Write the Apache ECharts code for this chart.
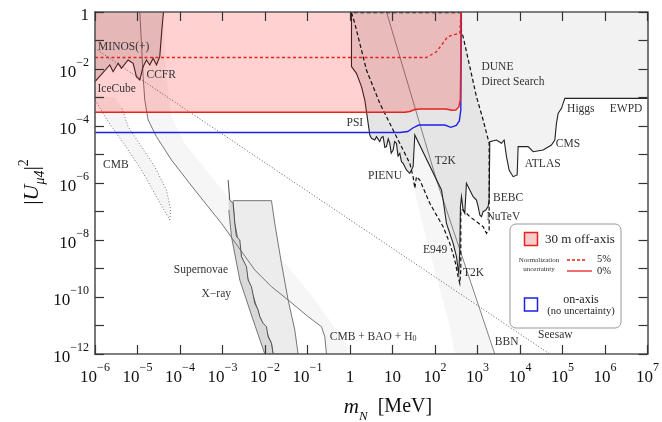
<!DOCTYPE html>
<html><head><meta charset="utf-8">
<script src="https://cdn.jsdelivr.net/npm/echarts@6/dist/echarts.min.js"></script>
<style>html,body{margin:0;padding:0;background:#fff}#c{width:662px;height:422px}</style>
</head><body><div id="c"></div>
<script>
// All values are [log10(m_N / MeV), log10(|U_mu4|^2)]
const xTicks = [-6,-5,-4,-3,-2,-1,0,1,2,3,4,5,6,7];
const yTicks = [-12,-11,-10,-9,-8,-7,-6,-5,-4,-3,-2,-1,0];

// DUNE 30 m off-axis, 0% normalization uncertainty (red solid)
const offAxis0 = [[-6,-3.519],[1.289,-3.519],[1.407,-3.491],[1.525,-3.421],[1.642,-3.404],[2.254,-3.404],[2.395,-3.446],[2.489,-3.439],[2.560,-3.333],[2.595,-3.088],[2.607,-1.684],[2.614,0]];
// 5% normalization uncertainty (red dashed)
const offAxis5 = [[-6,-1.596],[1.800,-1.596],[2.035,-1.393],[2.184,-1.098],[2.301,-0.867],[2.466,-0.782],[2.584,-0.747],[2.610,0]];
// on-axis (blue)
const onAxis = [[-6,-4.228],[1.172,-4.228],[1.360,-4.193],[1.478,-4.070],[1.619,-3.965],[2.231,-3.965],[2.372,-4.046],[2.501,-3.982],[2.572,-3.825],[2.607,-3.439],[2.619,0]];

// IceCube / MINOS(+) / CCFR bound
const minosCurve = [[-6,-2.445],[-5.652,-1.860],[-5.574,-2.094],[-5.456,-1.801],[-5.378,-1.977],[-5.221,-1.684],[-5.103,-1.801],[-5.025,-2.269],[-4.946,-2.386],[-4.868,-1.918],[-4.789,-1.684],[-4.711,-1.860],[-4.632,-1.626],[-4.554,-1.860],[-4.476,-1.567],[-4.452,-1.100],[-4.421,-0.515],[-4.389,0]];

// CMB band (dotted edges)
const cmbLeft = [[-6,-3.088],[-5.691,-3.848],[-5.299,-4.667],[-4.907,-5.544],[-4.554,-6.480],[-4.240,-7.298]];
const cmbRight = [[-4.240,-7.298],[-4.217,-6.947],[-4.319,-6.246],[-4.593,-5.427],[-4.907,-4.725],[-5.221,-4.023],[-5.378,-3.322],[-5.534,-2.994],[-6,-2.912]];

// CMB + BAO + H0
const cmbBaoLine = [[-4.946,0],[-4.907,-1.100],[-4.868,-2.269],[-4.829,-3.088],[-4.750,-3.789],[-4.554,-4.374],[-4.201,-5.193],[-3.652,-6.246],[-3.025,-7.415],[-2.633,-8.234],[-2.240,-9.053],[-1.848,-9.638],[-1.456,-10.105],[-0.985,-10.690],[-0.672,-11.041],[-0.593,-11.392],[-0.554,-12]];
const cmbBaoEdge = [[-0.044,-12],[-0.083,-11.626],[-0.883,-9.988],[-1.652,-8.585],[-2.476,-7.181],[-3.260,-5.778],[-3.888,-4.608],[-4.201,-3.673],[-4.319,-2.269],[-4.397,0]];

// Supernovae box and X-ray
const supernovaBox = [[-2.750,-6.620],[-1.848,-6.620],[-1.770,-7.415],[-1.613,-8.819],[-1.456,-10.105],[-1.299,-11.158],[-1.221,-12],[-1.809,-12],[-1.848,-11.626],[-2.123,-10.690],[-2.397,-9.404],[-2.554,-8.585],[-2.711,-7.415],[-2.750,-6.714]];
const xrayJagged = [[-2.868,-5.895],[-2.829,-6.597],[-2.750,-6.714],[-2.711,-7.415],[-2.672,-7.883],[-2.593,-8.000],[-2.554,-8.585],[-2.436,-8.936],[-2.397,-9.404],[-2.319,-9.638],[-2.240,-10.222],[-2.162,-10.456],[-2.123,-10.690],[-2.044,-10.924],[-1.966,-11.041],[-1.927,-11.392],[-1.848,-11.626],[-1.809,-12]];
const xrayLower = [[-2.005,-12],[-2.280,-10.807],[-2.593,-9.404],[-2.789,-7.883],[-2.852,-6.947]];

// BBN
const bbnLine = [[0.859,0],[2.035,-5.895],[3.407,-12]];
const bbnEdge = [[3.407,-12],[2.466,-12],[2.348,-11.041],[2.035,-9.287],[1.721,-7.532],[1.407,-5.544],[0.701,-4.374],[0.309,0]];

// Seesaw
const seesaw = [[-6,-1.28],[4.70,-12]];

// PSI, PIENU, T2K, E949, BEBC, NuTeV, ATLAS, CMS, Higgs, EWPD boundary
const psiPienu = [[0.035,0],[0.035,-1.918],[0.152,-2.152],[0.270,-2.620],[0.348,-3.088],[0.427,-3.906],[0.466,-4.316],[0.505,-4.433],[0.583,-4.491],[0.623,-4.374],[0.701,-4.550],[0.740,-4.40],[0.779,-4.374],[0.82,-4.75],[0.858,-4.725],[0.90,-4.45],[0.936,-4.608],[0.97,-4.95],[1.015,-4.842],[1.05,-4.55],[1.093,-4.608],[1.13,-5.05],[1.172,-4.959],[1.21,-5.25],[1.250,-5.310],[1.328,-5.544],[1.407,-5.661],[1.485,-5.427]];
const t2kLine = [[1.525,-4.316],[2.152,-6.246],[2.191,-6.597],[2.270,-7.415],[2.348,-7.766],[2.427,-8.117],[2.505,-8.585],[2.544,-9.053],[2.560,-9.170]];
const bebcLine = [[2.583,-8.351],[2.599,-6.830],[2.623,-6.480],[2.662,-6.947],[2.701,-7.064],[2.740,-6.012],[2.819,-6.246],[2.897,-6.480],[2.976,-6.597],[3.015,-6.830],[3.054,-7.123],[3.093,-7.181],[3.133,-7.006],[3.195,-6.947],[3.250,-6.830],[3.274,-6.597],[3.289,-4.550]];
const colliderLine = [[3.289,-4.550],[3.446,-4.491],[3.564,-4.608],[3.627,-4.491],[3.682,-5.076],[3.744,-5.544],[3.838,-5.778],[3.933,-5.719],[3.956,-4.725],[4.191,-4.725],[4.309,-4.901],[4.544,-4.842],[4.740,-4.667],[4.819,-4.491],[4.858,-3.906],[4.897,-3.556],[4.976,-3.380],[5.054,-3.029],[7,-3.029]];
const duneDiagonal = [[3.274,-4.608],[3.133,-3.789],[2.976,-2.971],[2.819,-1.918],[2.662,-0.865],[2.623,-0.690],[2.623,0]];

// DUNE direct search outline (dashed)
const duneOutline = [[0.035,-0.02],[0.113,-0.398],[0.230,-1.100],[0.387,-2.035],[0.544,-2.620],[0.701,-3.205],[0.897,-3.789],[1.093,-4.374],[1.250,-4.842],[1.407,-5.310],[1.485,-5.778],[1.525,-6.187],[1.564,-5.778],[1.642,-5.895],[1.878,-6.714],[2.191,-7.532],[2.348,-8.117],[2.466,-8.702],[2.544,-9.287],[2.583,-9.520],[2.607,-9.053],[2.607,-6.947],[2.662,-6.947],[2.819,-7.181],[2.976,-7.357],[3.133,-7.532],[3.211,-7.766],[3.274,-7.649],[3.274,-4.608],[3.133,-3.789],[2.976,-2.971],[2.819,-1.918],[2.662,-0.865],[2.623,-0.690],[2.623,-0.02],[0.035,-0.02]];

// Region labels: [log10 m, log10 U2, text]
const regionLabels = [
  [-5.927,-1.239,'MINOS(+)'],[-4.788,-2.211,'CCFR'],[-5.941,-2.712,'IceCube'],[-5.809,-5.368,'CMB'],
  [-0.082,-3.884,'PSI'],[0.426,-5.744,'PIENU'],[1.995,-5.218,'T2K'],[3.094,-1.940,'DUNE'],[3.094,-2.446,'Direct Search'],
  [5.108,-3.414,'Higgs'],[6.113,-3.414,'EWPD'],[4.842,-4.642,'CMS'],[4.113,-5.344,'ATLAS'],[3.367,-6.537,'BEBC'],
  [3.212,-7.204,'NuTeV'],[1.720,-8.351,'E949'],[2.661,-9.168,'T2K'],[3.407,-11.568,'BBN'],[4.426,-11.333,'Seesaw'],
  [-4.146,-9.053,'Supernovae'],[-3.494,-9.905,'X\u2212ray'],[-0.475,-11.393,'CMB + BAO + H{sub|0}']
];

const FONT = '"Liberation Serif","DejaVu Serif",serif';
const RED = '#e8201e', BLUE = '#1e22e6';
const rev = a => a.slice().reverse();

function shape(pts, opt) {
  return {
    type: 'custom', coordinateSystem: 'cartesian2d', silent: true, clip: true,
    z: opt.z || 2, data: [[0, -6]],
    renderItem: (params, api) => ({
      type: opt.line ? 'polyline' : 'polygon',
      shape: { points: pts.map(p => api.coord(p)) },
      style: { fill: opt.line ? 'none' : opt.fill, stroke: opt.stroke || 'none', lineWidth: opt.lw || 0, lineDash: opt.dash || null, opacity: 1 }
    })
  };
}

const cmbRegion = cmbLeft.concat(cmbRight);
const cmbBaoRegion = cmbBaoLine.concat(cmbBaoEdge);
const bbnRegion = bbnLine.concat(bbnEdge);
const lightRegion = [[2.623,0],[7,0]].concat(rev(colliderLine)).concat(duneDiagonal);
const darkRegion = psiPienu.concat(t2kLine, bebcLine, duneDiagonal);
const minosRegion = minosCurve.concat([[-6,0]]);
const pinkRegion = [[-6,0]].concat(offAxis0);
const xrayRegion = xrayJagged.concat(xrayLower);
const mainBoundary = psiPienu.concat(t2kLine, bebcLine, colliderLine);

const series = [
  shape(cmbRegion, {fill:'#f5f5f5', z:1}),
  shape(cmbBaoRegion, {fill:'#f6f6f6', z:1}),
  shape(bbnRegion, {fill:'#f6f6f6', z:1}),
  shape(lightRegion, {fill:'#f2f2f2', z:2}),
  shape(darkRegion, {fill:'#e5e5e5', z:3}),
  shape(minosRegion, {fill:'#e0e0e0', z:3}),
  shape(supernovaBox, {fill:'#ececec', stroke:'#555', lw:0.8, z:3}),
  shape(xrayRegion, {fill:'#d9d9d9', z:4}),
  shape(xrayJagged, {line:true, stroke:'#444', lw:0.9, z:5}),
  shape(xrayLower, {line:true, stroke:'#555', lw:0.8, z:5}),
  shape(cmbBaoLine, {line:true, stroke:'#666', lw:0.9, z:5}),
  shape(bbnLine, {line:true, stroke:'#666', lw:0.8, z:5}),
  shape(cmbLeft, {line:true, stroke:'#666', lw:0.9, dash:[1,2], z:5}),
  shape(cmbRight.slice(0,7), {line:true, stroke:'#666', lw:0.9, dash:[1,2], z:5}),
  shape(seesaw, {line:true, stroke:'#333', lw:0.8, dash:[1,2], z:5}),
  shape(minosCurve, {line:true, stroke:'#222', lw:1.1, z:6}),
  shape(mainBoundary, {line:true, stroke:'#222', lw:1.1, z:6}),
  shape(pinkRegion, {fill:'rgba(255,0,0,0.18)', z:7}),
  shape(duneOutline, {line:true, stroke:'#111', lw:1.2, dash:[4,2.5], z:8}),
  shape(onAxis, {line:true, stroke:BLUE, lw:1.4, z:9}),
  shape(offAxis0, {line:true, stroke:RED, lw:1.4, z:9}),
  shape(offAxis5, {line:true, stroke:RED, lw:1.3, dash:[3,2.5], z:9}),
  {
    type: 'custom', coordinateSystem: 'cartesian2d', silent: true, clip: false, z: 10,
    data: regionLabels.map(l => [l[0], l[1]]),
    renderItem: (params, api) => {
      const l = regionLabels[params.dataIndex];
      const p = api.coord([l[0], l[1]]);
      return { type: 'text', x: p[0], y: p[1], style: {
        text: l[2], fill: '#333', fontFamily: FONT, fontSize: 11.5, align: 'left', verticalAlign: 'middle',
        rich: { sub: { fontFamily: FONT, fontSize: 8, fill: '#333', verticalAlign: 'bottom', lineHeight: 10 } }
      }};
    }
  }
];

const sup = (b, e) => '{b|' + b + '}{s|' + e + '}';
const tickRich = {
  b: { fontFamily: FONT, fontSize: 17, color: '#111', lineHeight: 24, verticalAlign: 'bottom' },
  s: { fontFamily: FONT, fontSize: 12, color: '#111', lineHeight: 14, verticalAlign: 'top' }
};
const axisCommon = {
  type: 'value', splitLine: { show: false }, z: 50,
  axisLine: { show: true, onZero: false, lineStyle: { color: '#555', width: 1.6 } },
  axisTick: { show: true, inside: true, length: 9, lineStyle: { color: '#333', width: 1.2 } }
};

const chart = echarts.init(document.getElementById('c'), null, { renderer: 'canvas' });
chart.setOption({
  animation: false,
  grid: { left: 95, right: 14, top: 12, bottom: 68, containLabel: false },
  xAxis: [
    Object.assign({}, axisCommon, { position: 'bottom', min: xTicks[0], max: xTicks[xTicks.length-1], interval: 1,
      axisLabel: { margin: 8, rich: tickRich, formatter: v => {
        const e = Math.round(v); if (e === 0) return '{b|1}'; if (e === 1) return '{b|10}';
        return sup('10', (e < 0 ? '\u2212' : '') + Math.abs(e)); } } }),
    Object.assign({}, axisCommon, { position: 'top', min: xTicks[0], max: xTicks[xTicks.length-1], interval: 1, axisLabel: { show: false } })
  ],
  yAxis: [
    Object.assign({}, axisCommon, { position: 'left', min: yTicks[0], max: yTicks[yTicks.length-1], interval: 1,
      axisLabel: { margin: 6, rich: tickRich, formatter: v => {
        const e = Math.round(v); if (e % 2) return ''; if (e === 0) return '{b|1}';
        return sup('10', '\u2212' + Math.abs(e)); } } }),
    Object.assign({}, axisCommon, { position: 'right', min: yTicks[0], max: yTicks[yTicks.length-1], interval: 1, axisLabel: { show: false } })
  ],
  series: series,
  graphic: [
    { type: 'text', x: 388, y: 410, z: 100, style: {
      text: '{m|m}{n|N}{r|  [MeV]}', align: 'center', verticalAlign: 'middle',
      rich: {
        m: { fontFamily: FONT, fontStyle: 'italic', fontSize: 21, fill: '#111', lineHeight: 26, verticalAlign: 'top' },
        n: { fontFamily: FONT, fontStyle: 'italic', fontSize: 13, fill: '#111', lineHeight: 16, verticalAlign: 'bottom' },
        r: { fontFamily: FONT, fontSize: 20, fill: '#111', lineHeight: 26, verticalAlign: 'top' }
      } } },
    { type: 'text', x: 32, y: 182, rotation: Math.PI / 2, z: 100, style: {
      text: '{b||}{u|U}{s|\u03bc4}{b||}{p|2}', align: 'center', verticalAlign: 'middle',
      rich: {
        b: { fontFamily: FONT, fontSize: 22, fill: '#111', lineHeight: 30, verticalAlign: 'middle' },
        u: { fontFamily: FONT, fontStyle: 'italic', fontSize: 22, fill: '#111', lineHeight: 30, verticalAlign: 'middle' },
        s: { fontFamily: FONT, fontStyle: 'italic', fontSize: 14, fill: '#111', lineHeight: 16, verticalAlign: 'bottom' },
        p: { fontFamily: FONT, fontSize: 14, fill: '#111', lineHeight: 16, verticalAlign: 'top' }
      } } },
    { type: 'rect', z: 100, shape: { x: 510, y: 224, width: 111, height: 104, r: 6 }, style: { fill: '#fff', stroke: '#999', lineWidth: 1 } },
    { type: 'rect', z: 101, shape: { x: 524.5, y: 232.5, width: 13, height: 13 }, style: { fill: '#fbcaca', stroke: RED, lineWidth: 1.5 } },
    { type: 'text', z: 101, x: 545, y: 239.5, style: { text: '30 m off-axis', fontFamily: FONT, fontSize: 13, fill: '#222', verticalAlign: 'middle' } },
    { type: 'text', z: 101, x: 539, y: 260, style: { text: 'Normalization', fontFamily: FONT, fontSize: 7, fill: '#333', align: 'center', verticalAlign: 'middle' } },
    { type: 'text', z: 101, x: 539, y: 269, style: { text: 'uncertainty', fontFamily: FONT, fontSize: 7, fill: '#333', align: 'center', verticalAlign: 'middle' } },
    { type: 'line', z: 101, shape: { x1: 567, y1: 260, x2: 585, y2: 260 }, style: { stroke: RED, lineWidth: 1.4, lineDash: [3, 2] } },
    { type: 'text', z: 101, x: 604, y: 259.5, style: { text: '5%', fontFamily: FONT, fontSize: 10.5, fill: '#222', align: 'center', verticalAlign: 'middle' } },
    { type: 'line', z: 101, shape: { x1: 567, y1: 271, x2: 592, y2: 271 }, style: { stroke: RED, lineWidth: 1.3 } },
    { type: 'text', z: 101, x: 604, y: 271, style: { text: '0%', fontFamily: FONT, fontSize: 10.5, fill: '#222', align: 'center', verticalAlign: 'middle' } },
    { type: 'rect', z: 101, shape: { x: 524.5, y: 298, width: 13, height: 13 }, style: { fill: '#fff', stroke: BLUE, lineWidth: 1.5 } },
    { type: 'text', z: 101, x: 581, y: 299.5, style: { text: 'on-axis', fontFamily: FONT, fontSize: 12, fill: '#222', align: 'center', verticalAlign: 'middle' } },
    { type: 'text', z: 101, x: 581, y: 311, style: { text: '(no uncertainty)', fontFamily: FONT, fontSize: 10.5, fill: '#222', align: 'center', verticalAlign: 'middle' } }
  ]
});
</script></body></html>
